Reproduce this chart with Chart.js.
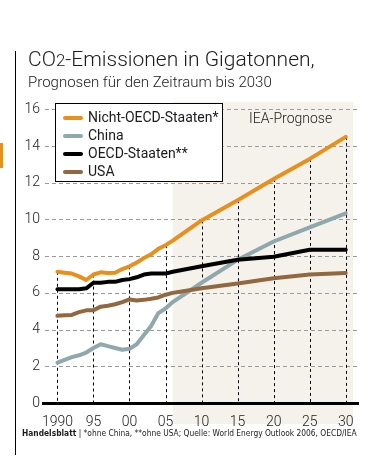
<!DOCTYPE html>
<html lang="de">
<head>
<meta charset="utf-8">
<script src="https://cdn.jsdelivr.net/npm/chart.js@4/dist/chart.umd.min.js"></script>
<style>
  html, body { margin: 0; padding: 0; background: #fff; }
  #page { position: relative; width: 370px; height: 462px; overflow: hidden; font-family: Roboto, "Open Sans", sans-serif; color: #1a1a1a; }
  #chart { position: absolute; left: 0; top: 0; }
  .rule { position: absolute; left: 15px; top: 51px; width: 1px; height: 404px; background: #000; }
  .edge { position: absolute; left: 0; top: 143px; width: 3px; height: 25px; background: #e8901e; }
  .title { position: absolute; left: 28px; top: 47px; font-size: 21px; font-weight: 300; white-space: nowrap; }
  .title small { font-size: 0.8em; }
  .subtitle { position: absolute; left: 28px; top: 73px; font-size: 15px; font-weight: 300; white-space: nowrap; }
  .legend { position: absolute; left: 55px; top: 103px; width: 168px; height: 79px; border: 1px solid #000; background: #fff; box-sizing: border-box; padding-top: 4px; }
  .legend div { height: 18px; line-height: 18px; font-size: 14px; white-space: nowrap; }
  .legend span { display: inline-block; width: 20px; height: 4px; border-radius: 2px; margin: 0 5px 0 7px; vertical-align: middle; }
  .iea { position: absolute; left: 249px; top: 110px; font-size: 14px; font-weight: 300; }
  .source { position: absolute; left: 22px; top: 427px; font-family: "DejaVu Sans"; font-stretch: condensed; font-size: 9.5px; white-space: nowrap; transform-origin: 0 0; }
  .source b { font-weight: bold; }
</style>
</head>
<body>
<div id="page">
  <canvas id="chart" width="370" height="462"></canvas>
  <div class="rule"></div>
  <div class="edge"></div>
  <div class="title">CO<small>2</small>-Emissionen in Gigatonnen,</div>
  <div class="subtitle">Prognosen für den Zeitraum bis 2030</div>
  <div class="legend" id="legend"></div>
  <div class="iea">IEA-Prognose</div>
  <div class="source" id="source"><b>Handelsblatt</b> | *ohne China, **ohne USA; Quelle: World Energy Outlook 2006, OECD/IEA</div>
</div>
<script>
const years = [1990, 1991, 1992, 1993, 1994, 1995, 1996, 1997, 1998, 1999, 2000, 2001, 2002, 2003, 2004, 2005, 2006, 2010, 2015, 2020, 2025, 2030];
const nonOecd = [7.15, 7.1, 7.05, 6.9, 6.7, 7.0, 7.12, 7.08, 7.1, 7.3, 7.45, 7.65, 7.9, 8.1, 8.4, 8.6, 8.85, 9.95, 11.05, 12.2, 13.3, 14.5];
const china = [2.2, 2.35, 2.5, 2.6, 2.75, 3.0, 3.2, 3.1, 3.0, 2.9, 2.95, 3.2, 3.7, 4.2, 4.9, 5.15, 5.5, 6.55, 7.8, 8.8, 9.57, 10.33];
const oecd = [6.2, 6.2, 6.2, 6.2, 6.25, 6.55, 6.55, 6.6, 6.6, 6.7, 6.75, 6.85, 7.0, 7.05, 7.05, 7.05, 7.15, 7.45, 7.8, 7.97, 8.35, 8.35];
const usa = [4.75, 4.78, 4.8, 4.95, 5.05, 5.05, 5.25, 5.3, 5.38, 5.5, 5.64, 5.58, 5.62, 5.68, 5.75, 5.9, 6.0, 6.25, 6.51, 6.8, 7.0, 7.08];

const seriesNames = ['Nicht-OECD-Staaten*', 'China', 'OECD-Staaten**', 'USA'];
const seriesColors = ['#e8901e', '#8ea8ad', '#000000', '#93673f'];
const seriesValues = [nonOecd, china, oecd, usa];

const xTicks = [1990, 1995, 2000, 2005, 2010, 2015, 2020, 2025, 2030];
const xTickLabels = ['1990', '95', '00', '05', '10', '15', '20', '25', '30'];
const yTicks = [0, 2, 4, 6, 8, 10, 12, 14, 16];
const forecastStart = 2006;
const forecastEnd = 2031;

const legend = document.getElementById('legend');
seriesNames.forEach((name, i) => {
  const row = document.createElement('div');
  const swatch = document.createElement('span');
  swatch.style.background = seriesColors[i];
  row.appendChild(swatch);
  row.appendChild(document.createTextNode(name));
  legend.appendChild(row);
});

// fit the footer line to the width it has in the print
const source = document.getElementById('source');
source.style.transform = `scaleX(${335 / source.offsetWidth})`;

const forecastShade = {
  id: 'forecastShade',
  beforeDraw(chart) {
    const { ctx, chartArea, scales } = chart;
    const x0 = scales.x.getPixelForValue(forecastStart);
    const x1 = scales.x.getPixelForValue(forecastEnd);
    ctx.save();
    ctx.fillStyle = '#f4f2eb';
    ctx.fillRect(x0, chartArea.top, x1 - x0, chartArea.bottom - chartArea.top + 21);
    ctx.restore();
  },
};

// dashed grey grid lines at the even values, drawn by hand to get the dash
const dashedGrid = {
  id: 'dashedGrid',
  beforeDatasetsDraw(chart) {
    const { ctx, chartArea, scales } = chart;
    ctx.save();
    ctx.strokeStyle = '#9a9a9a';
    ctx.lineWidth = 1;
    ctx.setLineDash([4, 3]);
    yTicks.slice(1).forEach((value) => {
      const y = Math.round(scales.y.getPixelForValue(value)) + 0.5;
      ctx.beginPath();
      ctx.moveTo(chartArea.left + 2, y);
      ctx.lineTo(chartArea.right - 1, y);
      ctx.stroke();
    });
    ctx.restore();
  },
};

const dropLines = {
  id: 'dropLines',
  beforeDatasetsDraw(chart) {
    const { ctx, scales } = chart;
    ctx.save();
    ctx.strokeStyle = '#000';
    ctx.lineWidth = 1;
    ctx.setLineDash([3, 3]);
    xTicks.forEach((year) => {
      const i = years.indexOf(year);
      const top = Math.max(...seriesValues.map((s) => s[i]));
      const x = Math.round(scales.x.getPixelForValue(year)) + 0.5;
      ctx.beginPath();
      ctx.moveTo(x, scales.y.getPixelForValue(top));
      ctx.lineTo(x, scales.y.getPixelForValue(0));
      ctx.stroke();
    });
    ctx.restore();
  },
};

new Chart(document.getElementById('chart'), {
  type: 'line',
  data: {
    datasets: seriesNames.map((name, i) => ({
      label: name,
      data: years.map((year, j) => ({ x: year, y: seriesValues[i][j] })),
      borderColor: seriesColors[i],
      borderWidth: 4,
      borderCapStyle: 'round',
      borderJoinStyle: 'round',
      pointRadius: 0,
      tension: 0,
    })).reverse(),
  },
  options: {
    responsive: false,
    animation: false,
    layout: { padding: { top: 102, right: 12, bottom: 29, left: 0 } },
    plugins: { legend: { display: false }, tooltip: { enabled: false } },
    scales: {
      x: {
        type: 'linear',
        min: 1988,
        max: 2031.7,
        afterBuildTicks: (scale) => { scale.ticks = xTicks.map((value) => ({ value })); },
        afterFit: (scale) => { scale.height = 30; },
        ticks: {
          callback: (value) => xTickLabels[xTicks.indexOf(value)],
          color: '#1a1a1a',
          font: { family: 'Roboto', size: 14, weight: 300 },
          padding: 3,
          maxRotation: 0,
        },
        grid: { display: false },
        border: { color: '#000', width: 3 },
      },
      y: {
        min: 0,
        max: 16.4,
        afterBuildTicks: (scale) => { scale.ticks = yTicks.map((value) => ({ value })); },
        afterFit: (scale) => { scale.width = 43; },
        ticks: {
          color: '#1a1a1a',
          font: { family: 'Roboto', size: 14, weight: 300 },
          padding: 3,
        },
        grid: { display: false, drawTicks: false },
        border: { display: false },
      },
    },
  },
  plugins: [forecastShade, dashedGrid, dropLines],
});
</script>
</body>
</html>
